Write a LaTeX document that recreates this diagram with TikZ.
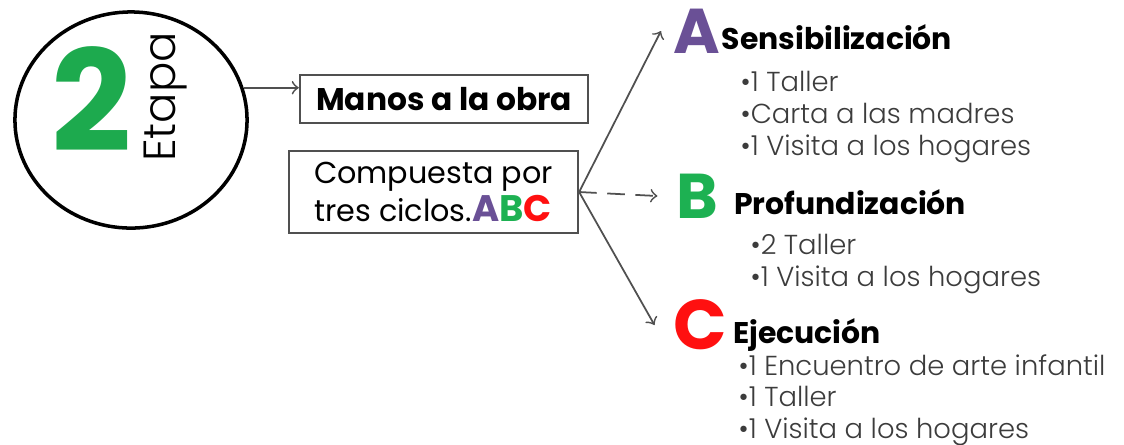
\documentclass[tikz,border=0pt]{standalone}
\usepackage{fontspec}
\setmainfont{Poppins}
\newfontfamily\lightfont{Poppins}[UprightFont=* Light]
\usepackage{xcolor}
\usetikzlibrary{shapes.geometric,arrows,positioning}

\definecolor{etapagreen}{HTML}{1DAA4E}
\definecolor{cyclepurple}{HTML}{6A5096}
\definecolor{cyclegreen}{HTML}{1DB152}
\definecolor{cyclered}{HTML}{FF1010}
\definecolor{itemgray}{HTML}{3C3C3C}
\definecolor{linegray}{HTML}{505050}

\begin{document}
\begin{tikzpicture}[x=0.01cm, y=-0.01cm]

% Styles for the stage diagram
\tikzstyle{box}=[rectangle, draw=linegray, line width=0.6pt, inner sep=0pt]
\tikzstyle{bigletter}=[inner sep=0pt, font=\fontsize{18}{18}\selectfont\bfseries]
\tikzstyle{cycletitle}=[inner sep=0pt, font=\fontsize{8.5}{9}\selectfont\bfseries]
\tikzstyle{items}=[inner sep=0pt, align=left, text=itemgray, font=\lightfont\fontsize{7.8}{9.2}\selectfont]
\tikzstyle{link}=[->, draw=linegray, line width=0.5pt]

\useasboundingbox (0,0) rectangle (1124,444);

% Stage circle
\node[ellipse, draw=black, line width=1pt, minimum width=2.32cm, minimum height=2.16cm] (etapa) at (131,120) {};
\node[inner sep=0pt, text=etapagreen, font=\fontsize{40}{40}\selectfont\bfseries] (num) at (92,99) {2};
\node[inner sep=0pt, rotate=90, font=\lightfont\fontsize{12.8}{13}\selectfont] (etapatxt) at (166,97) {Etapa};

% Boxes
\node[box, minimum width=2.88cm, minimum height=0.48cm] (manos) at (444,99) {\fontsize{8.9}{9}\selectfont\bfseries Manos a la obra};
\node[box, minimum width=2.89cm, minimum height=0.82cm, align=left] (ciclos) at (433.5,192)
  {\fontsize{8.6}{10.5}\selectfont Compuesta por\\[-1pt]
   \fontsize{8.6}{10.5}\selectfont tres ciclos.{\fontsize{10.5}{10}\selectfont\bfseries\textcolor{cyclepurple}{A}\textcolor{cyclegreen}{B}\textcolor{cyclered}{C}}};

% Cycle A
\node[bigletter, text=cyclepurple] (lA) at (697,31) {A};
\node[cycletitle, anchor=base west] (tA) at ([yshift=0.04cm]lA.base east) {Sensibilización};
\node[items, anchor=north west] (iA) at (740,70) {•1 Taller\\•Carta a las madres\\•1 Visita a los hogares};

% Cycle B
\node[bigletter, text=cyclegreen] (lB) at (697,196) {B};
\node[cycletitle, anchor=base west] (tB) at ([xshift=0.15cm, yshift=0.04cm]lB.base east) {Profundización};
\node[items, anchor=north west] (iB) at (750,233) {•2 Taller\\•1 Visita a los hogares};

% Cycle C
\node[bigletter, text=cyclered, font=\fontsize{20}{20}\selectfont\bfseries] (lC) at (700,325) {C};
\node[cycletitle, anchor=base west] (tC) at ([xshift=0.05cm, yshift=0.06cm]lC.base east) {Ejecución};
\node[items, anchor=north west, font=\lightfont\fontsize{7.8}{8.95}\selectfont] (iC) at (738,354) {•1 Encuentro de arte infantil\\•1 Taller\\•1 Visita a los hogares};

% Arrows
\draw[link] (etapa.16) -- (etapa.16 -| manos.west);
\draw[link] (ciclos.east) -- ([xshift=-0.12cm]lA.west);
\draw[link, dash pattern=on 5pt off 3pt] (ciclos.east) -- ([xshift=-0.18cm]lB.west);
\draw[link] (ciclos.east) -- ([xshift=-0.18cm]lC.west);

\end{tikzpicture}
\end{document}
